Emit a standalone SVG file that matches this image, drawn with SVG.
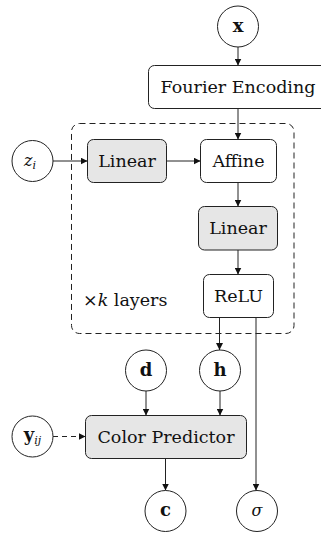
<svg xmlns="http://www.w3.org/2000/svg" width="321" height="534" viewBox="0 0 321 534">
<style>
.nd{fill:#fff;stroke:#222;stroke-width:1}
.g{fill:#e6e6e6}
.t{font-family:"DejaVu Serif","Liberation Serif",serif;font-size:17.5px;fill:#111;text-anchor:middle}
.m{font-family:"DejaVu Serif","Liberation Serif",serif;fill:#111;text-anchor:middle}
.c{fill:none;stroke:#222;stroke-width:1}
</style>
<defs>
<marker id="ah" viewBox="0 0 10 10" refX="10" refY="5" markerWidth="7" markerHeight="7" markerUnits="userSpaceOnUse" orient="auto">
<path d="M0,0 L10,5 L0,10 z" fill="#111"/>
</marker>
</defs>
<rect x="71.5" y="123.5" width="222.5" height="210" rx="8" fill="none" stroke="#222" stroke-width="1" stroke-dasharray="6,4"/>
<g id="connectors">
<line class="c" x1="238" y1="47" x2="238" y2="65.5" marker-end="url(#ah)"/>
<line class="c" x1="238" y1="108.5" x2="238" y2="139.5" marker-end="url(#ah)"/>
<line class="c" x1="53" y1="161" x2="87.5" y2="161" marker-end="url(#ah)"/>
<line class="c" x1="166.5" y1="161" x2="200.5" y2="161" marker-end="url(#ah)"/>
<line class="c" x1="238" y1="182.5" x2="238" y2="206.5" marker-end="url(#ah)"/>
<line class="c" x1="238" y1="250" x2="238" y2="274.5" marker-end="url(#ah)"/>
<line class="c" x1="219.5" y1="317.5" x2="219.5" y2="350" marker-end="url(#ah)"/>
<line class="c" x1="256" y1="317.5" x2="256" y2="490.5" marker-end="url(#ah)"/>
<line class="c" x1="146" y1="391" x2="146" y2="415.5" marker-end="url(#ah)"/>
<line class="c" x1="220" y1="391" x2="220" y2="415.5" marker-end="url(#ah)"/>
<line class="c" x1="53" y1="436.5" x2="85.5" y2="436.5" stroke-dasharray="5,4" marker-end="url(#ah)"/>
<line class="c" x1="165.5" y1="458.5" x2="165.5" y2="490.5" marker-end="url(#ah)"/>
</g>
<g id="x"><circle class="nd" cx="238" cy="26.5" r="20.5"/><text class="m" x="238" y="32" font-size="18" font-weight="bold">x</text></g>
<g id="fourier"><rect class="nd" x="148.5" y="65.5" width="185" height="43" rx="6"/><text class="t" x="238" y="93">Fourier Encoding</text></g>
<g id="zi"><circle class="nd" cx="32.5" cy="161" r="20.5"/><text class="m" x="30" y="166" font-size="16" font-style="italic">z<tspan font-size="11" dy="3">i</tspan></text></g>
<g id="linear1"><rect class="nd g" x="87.5" y="139.5" width="79" height="43" rx="6"/><text class="t" x="127" y="167">Linear</text></g>
<g id="affine"><rect class="nd" x="200.5" y="139.5" width="76" height="43" rx="6"/><text class="t" x="238.5" y="167">Affine</text></g>
<g id="linear2"><rect class="nd g" x="198.5" y="206.5" width="79" height="43.5" rx="6"/><text class="t" x="238" y="234">Linear</text></g>
<g id="relu"><rect class="nd" x="203.5" y="274.5" width="70" height="43" rx="6"/><text class="t" x="238.5" y="302">ReLU</text></g>
<g id="layers"><text class="t" x="83" y="306" style="text-anchor:start">×<tspan font-style="italic">k</tspan> layers</text></g>
<g id="d"><circle class="nd" cx="146" cy="370.5" r="20.5"/><text class="m" x="146" y="376" font-size="18" font-weight="bold">d</text></g>
<g id="h"><circle class="nd" cx="220" cy="370.5" r="20.5"/><text class="m" x="220" y="376" font-size="18" font-weight="bold">h</text></g>
<g id="yij"><circle class="nd" cx="32.5" cy="436.5" r="20.5"/><text class="m" x="32.5" y="441" font-size="18"><tspan font-weight="bold">y</tspan><tspan font-size="11" font-style="italic" dy="3">ij</tspan></text></g>
<g id="cp"><rect class="nd g" x="85.5" y="415.5" width="161" height="43" rx="6"/><text class="t" x="166" y="443">Color Predictor</text></g>
<g id="c"><circle class="nd" cx="165.5" cy="511" r="20.5"/><text class="m" x="165.5" y="516" font-size="18" font-weight="bold">c</text></g>
<g id="sigma"><circle class="nd" cx="257" cy="511" r="20.5"/><text class="m" x="257" y="516" font-size="16" font-style="italic">σ</text></g>
</svg>
